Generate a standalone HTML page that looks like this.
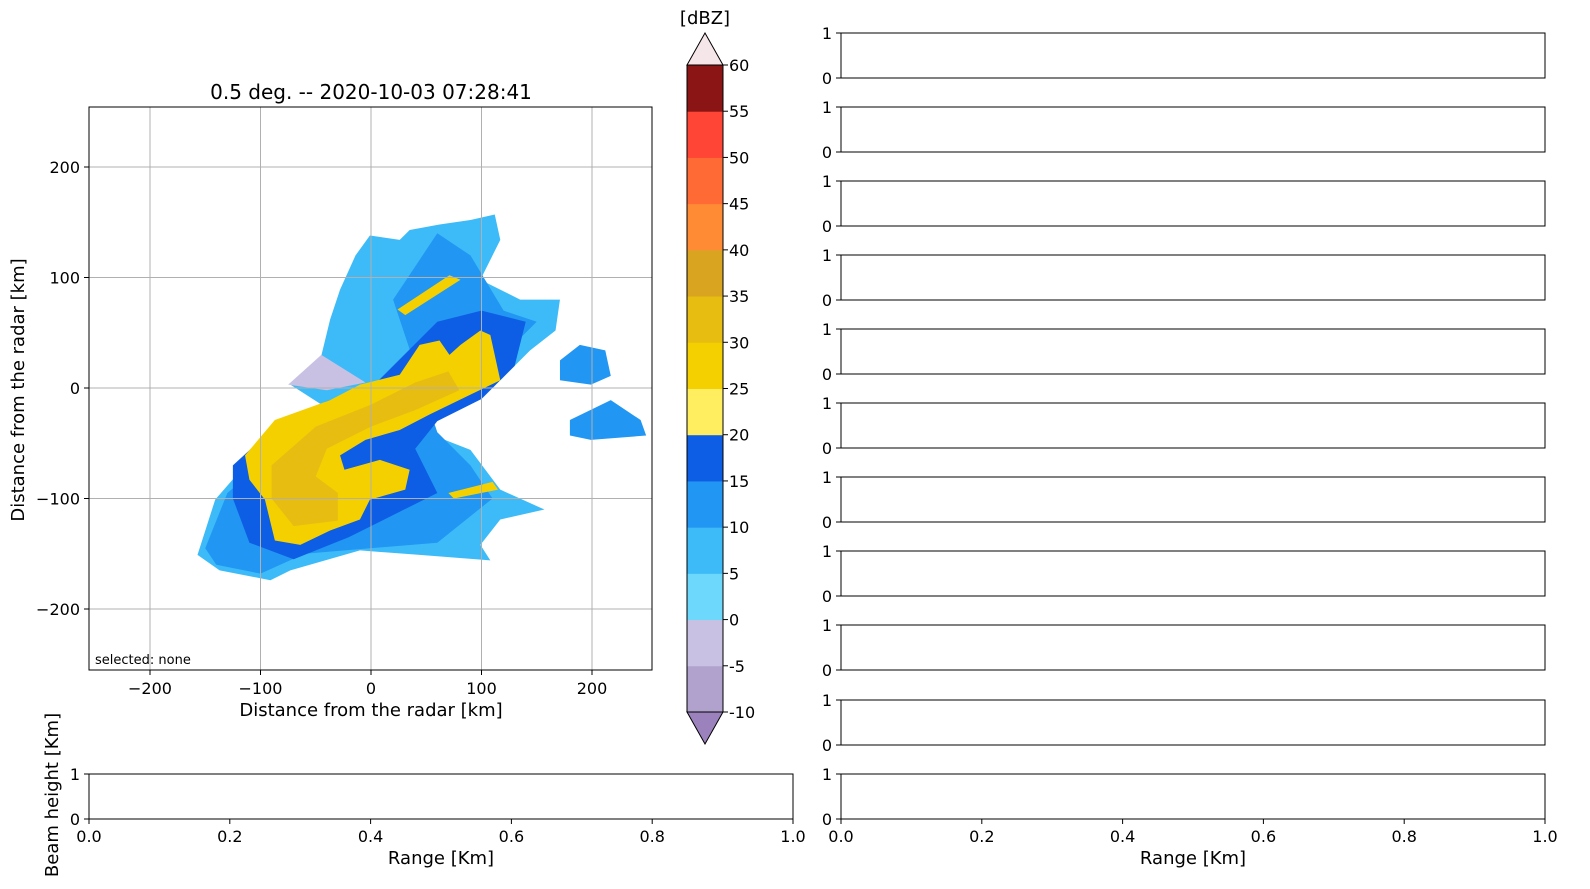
<!DOCTYPE html>
<html><head><meta charset="utf-8">
<style>
html,body{margin:0;padding:0;background:#fff;overflow:hidden;width:1590px;height:889px;font-family:"DejaVu Sans","Liberation Sans",sans-serif;}
svg{display:block;}
svg text{font-family:"DejaVu Sans","Liberation Sans",sans-serif;}
</style></head>
<body>
<svg id="fig" width="1590" height="889" viewBox="0 0 1590 889" xmlns="http://www.w3.org/2000/svg">
<rect width="1590" height="889" fill="#fff"/>
<g id="ppi"></g>
<g id="cbar"></g>
<g id="panels"></g>
</svg>
<script>
const NS="http://www.w3.org/2000/svg";
// PPI axis
const xTicks=[-200,-100,0,100,200];
const yTicks=[200,100,0,-100,-200];
// reflectivity regions (km)
const blueEnvelope=[[-157,-151],[-141,-101],[-114,-70],[-73,-38],[-37,-20],[-73,3],[-46,25],[-37,62],[-28,89],[-14,120],[-1,138],[26,134],[35,143],[62,148],[90,152],[112,157],[117,134],[99,98],[135,80],[171,80],[167,52],[144,34],[117,7],[90,-11],[44,-38],[90,-56],[117,-92],[157,-110],[117,-119],[99,-142],[108,-156],[44,-151],[-10,-147],[-73,-165],[-91,-174],[-137,-165]];
const midBlue=[[-150,-145],[-130,-95],[-100,-70],[-60,-40],[20,-20],[80,10],[130,40],[150,60],[120,70],[90,120],[60,140],[40,110],[20,80],[60,-40],[90,-70],[110,-100],[60,-140],[-60,-150],[-100,-168],[-140,-160]];
const darkBand=[[-125,-70],[-90,-38],[-40,-12],[0,0],[30,30],[60,60],[100,70],[140,60],[130,20],[100,-10],[60,-30],[40,-55],[60,-95],[30,-110],[-20,-135],[-70,-155],[-110,-140],[-125,-100]];
const yellowCore=[[-114,-61],[-87,-29],[-37,-11],[-10,3],[26,12],[44,39],[62,43],[71,30],[81,39],[99,52],[108,48],[117,7],[90,-6],[53,-24],[26,-38],[-5,-47],[-28,-61],[-24,-74],[8,-65],[35,-74],[31,-92],[-1,-101],[-10,-119],[-37,-129],[-64,-142],[-87,-138],[-96,-101],[-110,-83]];
const goldCore=[[-90,-70],[-50,-35],[0,-15],[40,5],[70,15],[80,-2],[40,-20],[0,-35],[-40,-55],[-50,-80],[-30,-95],[-30,-120],[-70,-125],[-90,-100]];
const northStreak=[[24,71],[71,102],[81,98],[31,66]];
const southStreak=[[70,-95],[110,-85],[115,-92],[75,-100]];
const eastBlobA=[[171,25],[189,39],[212,34],[217,11],[199,3],[171,7]];
const eastBlobB=[[180,-29],[217,-11],[244,-29],[249,-43],[199,-47],[180,-43]];
const lavenderFan=[[-75,3],[-45,30],[-5,5],[-40,-2]];
// colorbar
const cbLevels=[-10,-5,0,5,10,15,20,25,30,35,40,45,50,55,60];
const cbColors=["#b0a2cc","#c9c1e3","#6dd8fc","#3dbbf8","#2196f3","#0d5de5","#ffee60","#f5d000","#e8bd12","#d9a521","#ff8c35","#ff6a35","#ff4535","#8b1414"];
const panelTicks=[0,0.2,0.4,0.6,0.8,1.0];

const X0=89,X1=652,Y0=107,Y1=670,CX=371,CY=388,K=1.105;
const sx=v=>CX+K*v, sy=v=>CY-K*v;
function el(t,a,p,txt){const e=document.createElementNS(NS,t);for(const k in a)e.setAttribute(k,a[k]);if(txt!==undefined)e.textContent=txt;p.appendChild(e);return e;}
const ppi=document.getElementById('ppi');
let e;
e=el('rect',{x:X0,y:Y0,width:X1-X0,height:Y1-Y0,fill:'#fff'},ppi);


function poly(pts,fill,name){const p=el('polygon',{points:pts.map(q=>sx(q[0])+','+sy(q[1])).join(' '),fill:fill},ppi);

}
poly(blueEnvelope,'#3dbbf8','echo-light-blue');
poly(midBlue,'#2196f3','echo-mid-blue');
poly(darkBand,'#0d5de5','echo-dark-blue');
poly(lavenderFan,'#c9c1e3','echo-lavender');
poly(yellowCore,'#f5d000','echo-yellow');
poly(goldCore,'#e8bd12','echo-gold');
poly(northStreak,'#f5d000','echo-north-streak');
poly(southStreak,'#f5d000','echo-south-streak');
poly(eastBlobA,'#2196f3','echo-east-a');
poly(eastBlobB,'#2196f3','echo-east-b');
// grid
xTicks.forEach(v=>{e=el('line',{x1:sx(v),x2:sx(v),y1:Y0,y2:Y1,stroke:'#b0b0b0','stroke-width':1},ppi);


el('line',{x1:sx(v),x2:sx(v),y1:Y1,y2:Y1+5,stroke:'#000'},ppi);
e=el('text',{x:sx(v),y:Y1+24,'text-anchor':'middle','font-size':16},ppi,v<0?'\u2212'+(-v):String(v));

});
yTicks.forEach(v=>{e=el('line',{x1:X0,x2:X1,y1:sy(v),y2:sy(v),stroke:'#b0b0b0','stroke-width':1},ppi);


el('line',{x1:X0-5,x2:X0,y1:sy(v),y2:sy(v),stroke:'#000'},ppi);
e=el('text',{x:X0-9,y:sy(v)+6,'text-anchor':'end','font-size':16},ppi,v<0?'\u2212'+(-v):String(v));

});
e=el('rect',{x:X0,y:Y0,width:X1-X0,height:Y1-Y0,fill:'none',stroke:'#000'},ppi);


e=el('text',{x:371,y:99,'text-anchor':'middle','font-size':20},ppi,'0.5 deg. -- 2020-10-03 07:28:41');


e=el('text',{x:371,y:716,'text-anchor':'middle','font-size':18},ppi,'Distance from the radar [km]');


e=el('text',{x:24,y:390,'text-anchor':'middle','font-size':18,transform:'rotate(-90 24 390)'},ppi,'Distance from the radar [km]');


e=el('text',{x:95,y:664,'font-size':13},ppi,'selected: none');



// colorbar
const cb=document.getElementById('cbar');
const CBX=687,CBW=36,CBT=65,CBB=712;
const cy=v=>CBB-(v-(-10))/70*(CBB-CBT);
cbColors.forEach((c,i)=>{e=el('rect',{x:CBX,y:cy(cbLevels[i+1]),width:CBW,height:cy(cbLevels[i])-cy(cbLevels[i+1])+0.5,fill:c},cb);

});
e=el('polygon',{points:`${CBX},${CBT} ${CBX+CBW/2},33 ${CBX+CBW},${CBT}`,fill:'#f5e6ea',stroke:'#000'},cb);


e=el('polygon',{points:`${CBX},${CBB} ${CBX+CBW/2},744 ${CBX+CBW},${CBB}`,fill:'#9b82bc',stroke:'#000'},cb);


el('rect',{x:CBX,y:CBT,width:CBW,height:CBB-CBT,fill:'none',stroke:'#000'},cb);
cbLevels.forEach(v=>{el('line',{x1:CBX+CBW,x2:CBX+CBW+5,y1:cy(v),y2:cy(v),stroke:'#000'},cb);
e=el('text',{x:CBX+CBW+6,y:cy(v)+6,'font-size':16},cb,String(v));

});
e=el('text',{x:705,y:24,'text-anchor':'middle','font-size':18},cb,'[dBZ]');



// panels
const pg=document.getElementById('panels');
function panel(x,y,w,h,xt){const r=el('rect',{x:x,y:y,width:w,height:h,fill:'#fff',stroke:'#000'},pg);


[[1,y],[0,y+h]].forEach(([v,yy])=>{el('line',{x1:x-5,x2:x,y1:yy,y2:yy,stroke:'#000'},pg);
const t=el('text',{x:x-9,y:yy+6,'text-anchor':'end','font-size':16},pg,String(v));

});
if(xt){panelTicks.forEach(v=>{const px=x+v*w;el('line',{x1:px,x2:px,y1:y+h,y2:y+h+5,stroke:'#000'},pg);
const t=el('text',{x:px,y:y+h+23,'text-anchor':'middle','font-size':16},pg,v.toFixed(1));

});
const t=el('text',{x:x+w/2,y:y+h+45,'text-anchor':'middle','font-size':18},pg,'Range [Km]');

}}
const tops=[33,107,181,255,329,403,477,551,625,700,774];
tops.forEach((t,i)=>panel(841,t,704,45,i===tops.length-1));
panel(89,774,704,45,true);
e=el('text',{x:58,y:795,'text-anchor':'middle','font-size':18,transform:'rotate(-90 58 795)'},pg,'Beam height [Km]');


</script>
</body></html>
